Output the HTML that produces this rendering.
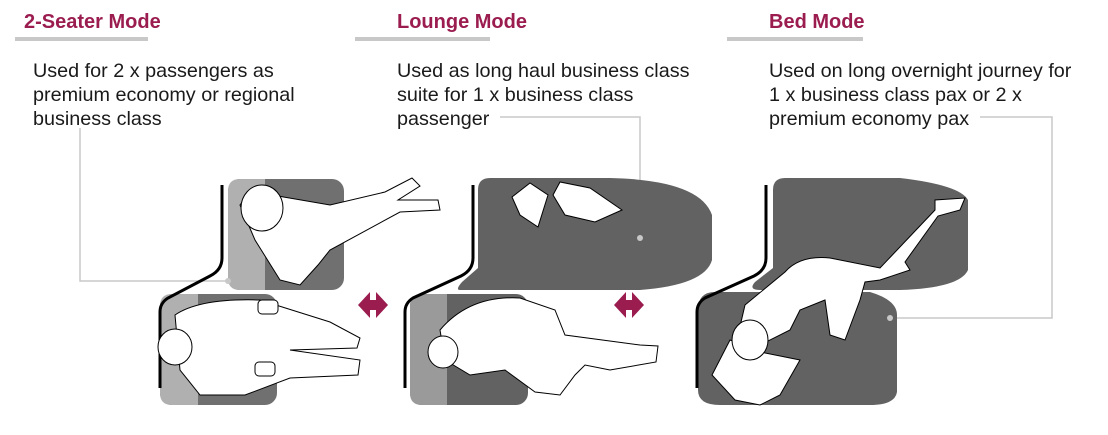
<!DOCTYPE html>
<html><head><meta charset="utf-8"><style>
body{margin:0;background:#fff;width:1108px;height:435px;overflow:hidden;position:relative;font-family:"Liberation Sans",Arial,sans-serif}
.t{position:absolute;color:#9b1d50;font-weight:bold;font-size:20px;top:11px}
.b{position:absolute;height:4px;background:#c8c8c8;top:37px}
.p{position:absolute;font-size:19.8px;line-height:24px;color:#1a1a1a;top:59px}
svg{position:absolute;left:0;top:0}
</style></head><body>
<div class="t" style="left:24px">2-Seater Mode</div>
<div class="b" style="left:15px;width:133px"></div>
<div class="t" style="left:397px">Lounge Mode</div>
<div class="b" style="left:355px;width:135px"></div>
<div class="t" style="left:769px">Bed Mode</div>
<div class="b" style="left:727px;width:136px"></div>
<div class="p" style="left:33px">Used for 2 x passengers as<br>premium economy or regional<br>business class</div>
<div class="p" style="left:397px">Used as long haul business class<br>suite for 1 x business class<br>passenger</div>
<div class="p" style="left:769px">Used on long overnight journey for<br>1 x business class pax or 2 x<br>premium economy pax</div>
<svg width="1108" height="435" viewBox="0 0 1108 435">
<g fill="none" stroke="#c8c8c8" stroke-width="1.5">
<path d="M80 128V281H228"/><path d="M500 117H640V238"/><path d="M980 117H1052V318H890"/>
</g>
<!-- panel 1 -->
<rect x="228" y="179" width="116" height="111" rx="12" fill="#707070"/>
<path d="M240 179H265V290H240Q228 290 228 278V191Q228 179 240 179Z" fill="#b0b0b0"/>
<rect x="160" y="294" width="117" height="111" rx="12" fill="#707070"/>
<path d="M172 294H198V405H172Q160 405 160 393V306Q160 294 172 294Z" fill="#b0b0b0"/>
<path d="M222 185V258Q222 270 210 276L168 298Q160 303 160 312V388" fill="none" stroke="#000" stroke-width="3"/>
<g fill="#fff" stroke="#000" stroke-width="1">
<path d="M240 205Q250 190 272 195L330 205L385 192L412 178L420 186L398 200L438 200L440 210L400 212L330 250L318 265L300 285L280 280L255 240Z"/>
<ellipse cx="262" cy="208" rx="21" ry="23"/>
<path d="M175 315Q200 298 260 300L330 322L360 338L357 348L290 350L360 360L358 375L290 378L245 395L200 395L180 370Z"/>
<ellipse cx="175" cy="347" rx="17" ry="18"/>
<rect x="258" y="300" width="20" height="14" rx="4"/><rect x="255" y="362" width="20" height="14" rx="4"/>
</g>
<!-- panel 2 -->
<path d="M490 178H610Q700 180 712 215V260Q705 285 640 290H460Q455 290 462 282L478 268V190Q478 178 490 178Z" fill="#626262"/>
<rect x="410" y="294" width="118" height="111" rx="12" fill="#626262"/>
<path d="M422 294H447V405H422Q410 405 410 393V306Q410 294 422 294Z" fill="#9a9a9a"/>
<path d="M473 185V258Q473 270 461 276L413 298Q405 303 405 312V388" fill="none" stroke="#000" stroke-width="3"/>
<g fill="#fff" stroke="#000" stroke-width="1">
<path d="M512 197L530 183L548 195L538 227L520 215Z"/><path d="M553 195L560 182L590 188L622 210L595 222L565 215Z"/>
<path d="M440 330Q470 295 520 298L555 310L565 335L640 345L658 346L656 362L610 370L585 365L575 375L560 395L535 392L505 370L470 375L445 360Z"/>
<ellipse cx="443" cy="352" rx="15" ry="16"/>
</g>
<circle cx="640" cy="238" r="3" fill="#c8c8c8"/>
<!-- arrows -->
<g fill="#9b1d50">
<path d="M358 305L370 292V300H376V292L388 305L376 318V310H370V318Z"/>
<path d="M614 305L626 292V300H632V292L644 305L632 318V310H626V318Z"/>
</g>
<!-- panel 3 -->
<path d="M785 178H900Q960 185 968 200V270Q960 288 900 290H760Q748 290 755 282L773 268V190Q773 178 785 178Z" fill="#626262"/>
<path d="M715 292H870Q897 300 897 315V392Q895 405 870 405H720Q698 405 698 390V310Q698 292 715 292Z" fill="#626262"/>
<path d="M766 185V258Q766 270 754 276L705 298Q697 303 697 312V388" fill="none" stroke="#000" stroke-width="3"/>
<g fill="#fff" stroke="#000" stroke-width="1">
<path d="M785 272Q800 255 830 258L880 268L935 210L935 200L965 198L960 210L938 216L905 262L910 270L880 280L865 282L860 300L845 340L830 335L825 300L800 310L790 330L760 345L738 335L745 305Z"/>
<path d="M712 375L730 340L760 352L800 360L780 395L760 405L735 400Z"/>
<ellipse cx="750" cy="340" rx="18" ry="20"/>
</g>
<circle cx="890" cy="318" r="3" fill="#c8c8c8"/>
<circle cx="228" cy="281" r="3" fill="#c8c8c8"/>
</svg>
</body></html>
